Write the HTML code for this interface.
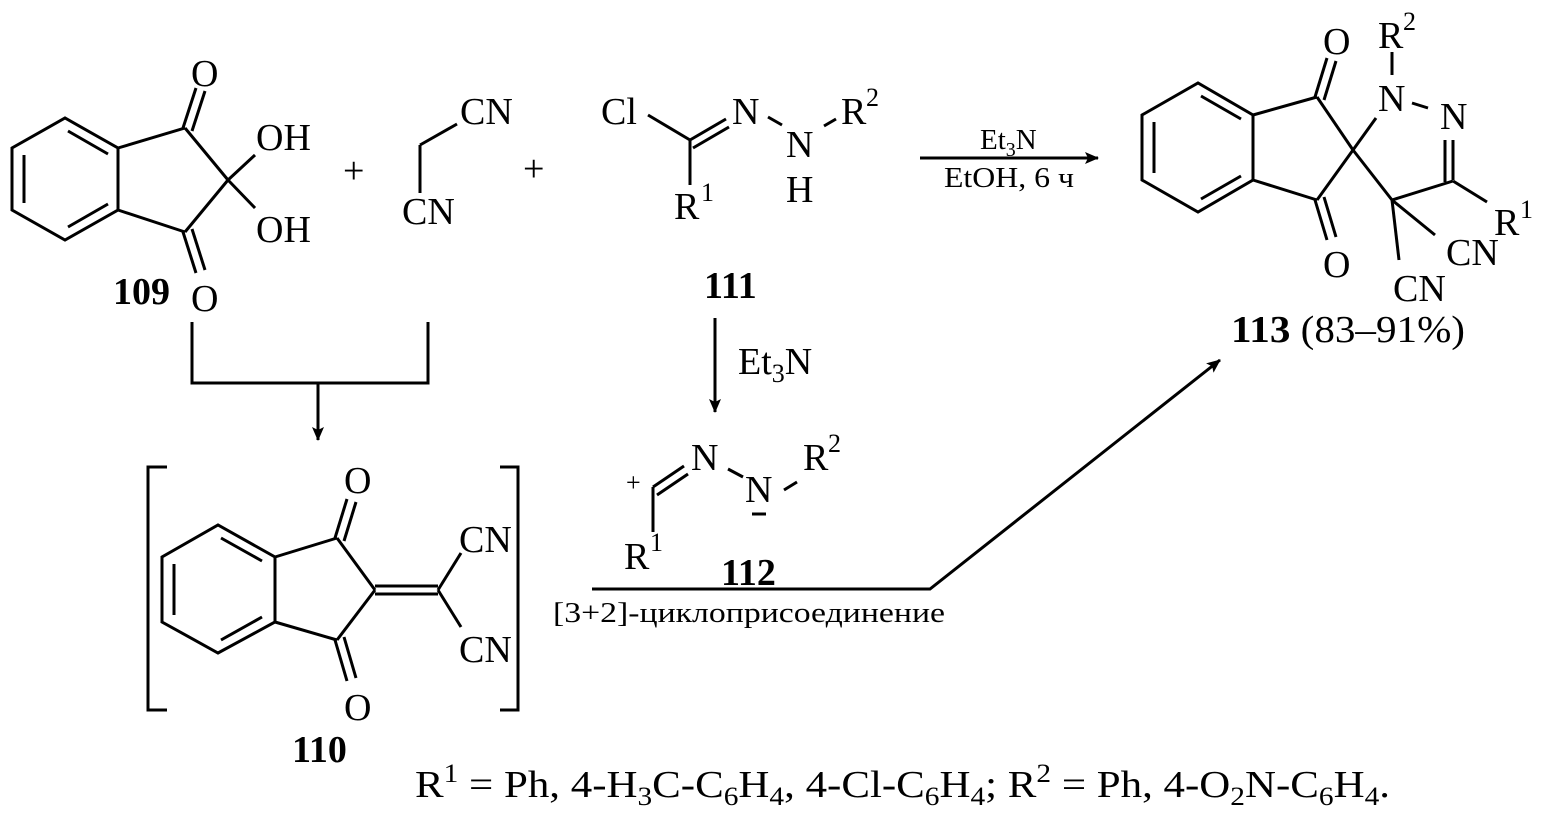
<!DOCTYPE html>
<html><head><meta charset="utf-8"><style>
html,body{margin:0;padding:0;background:#fff;}
svg{display:block;}
text{font-family:"Liberation Serif",serif;fill:#000;}
.b{font-weight:bold;}
</style></head><body>
<svg width="1542" height="815" viewBox="0 0 1542 815" xmlns="http://www.w3.org/2000/svg">
<defs>
<marker id="ah" markerWidth="14" markerHeight="12" refX="13" refY="6" orient="auto" markerUnits="userSpaceOnUse">
<path d="M0,0 L14,6 L0,12 L3,6 Z" fill="#000"/>
</marker>
</defs>
<g stroke="#000" stroke-width="3" fill="none" stroke-linecap="butt">
<!-- 109 -->
<polygon points="12,148 12,210 65,240 118,210 118,148 65,118"/>
<line x1="24" y1="155" x2="24" y2="203"/>
<line x1="68" y1="131" x2="108" y2="154"/>
<line x1="68" y1="227" x2="108" y2="204"/>
<line x1="118" y1="148" x2="185" y2="128"/>
<line x1="118" y1="210" x2="185" y2="232"/>
<line x1="185" y1="128" x2="228" y2="180"/>
<line x1="185" y1="232" x2="228" y2="180"/>
<line x1="183" y1="128" x2="196" y2="88"/><line x1="192" y1="131" x2="205" y2="91"/>
<line x1="183" y1="232" x2="196" y2="273"/><line x1="192" y1="229" x2="205" y2="270"/>
<line x1="228" y1="180" x2="255" y2="155"/>
<line x1="228" y1="180" x2="255" y2="208"/>
<!-- malononitrile -->
<line x1="420" y1="145" x2="457" y2="124"/>
<line x1="420" y1="145" x2="420" y2="193"/>
<!-- 111 -->
<line x1="648" y1="115" x2="690" y2="140"/>
<line x1="690" y1="140" x2="726" y2="119"/>
<line x1="693" y1="148" x2="729" y2="127"/>
<line x1="690" y1="140" x2="690" y2="185"/>
<line x1="768" y1="117" x2="782" y2="125"/>
<line x1="824" y1="126" x2="836" y2="119"/>
<!-- main arrow -->
<line x1="920" y1="158" x2="1098" y2="158" marker-end="url(#ah)"/>
<!-- 113 -->
<polygon points="1142,115 1142,180 1198,212 1253,180 1253,115 1198,83"/>
<line x1="1154" y1="122" x2="1154" y2="173"/>
<line x1="1201" y1="96" x2="1241" y2="119"/>
<line x1="1201" y1="199" x2="1241" y2="176"/>
<line x1="1253" y1="115" x2="1317" y2="97"/>
<line x1="1253" y1="180" x2="1317" y2="200"/>
<line x1="1317" y1="97" x2="1353" y2="150"/>
<line x1="1317" y1="200" x2="1353" y2="150"/>
<line x1="1315" y1="97" x2="1327" y2="58"/><line x1="1324" y1="100" x2="1336" y2="61"/>
<line x1="1315" y1="200" x2="1327" y2="240"/><line x1="1324" y1="197" x2="1336" y2="237"/>
<line x1="1353" y1="150" x2="1376" y2="118"/>
<line x1="1392" y1="52" x2="1392" y2="75"/>
<line x1="1412" y1="103" x2="1428" y2="108"/>
<line x1="1445" y1="140" x2="1445" y2="182"/>
<line x1="1453" y1="140" x2="1453" y2="180"/>
<line x1="1353" y1="150" x2="1392" y2="200"/>
<line x1="1392" y1="200" x2="1453" y2="181"/>
<line x1="1453" y1="181" x2="1487" y2="202"/>
<line x1="1392" y1="200" x2="1435" y2="235"/>
<line x1="1392" y1="200" x2="1399" y2="260"/>
<!-- connectors 109 -> 110 -->
<polyline points="192,322 192,383 428,383 428,322"/>
<line x1="318" y1="383" x2="318" y2="440" marker-end="url(#ah)"/>
<line x1="715" y1="318" x2="715" y2="412" marker-end="url(#ah)"/>
<!-- 110 -->
<polyline points="167,467 148,467 148,710 167,710"/>
<polyline points="500,467 518,467 518,710 500,710"/>
<polygon points="162,557 162,622 218,653 275,622 275,557 218,525"/>
<line x1="174" y1="564" x2="174" y2="615"/>
<line x1="221" y1="538" x2="262" y2="561"/>
<line x1="221" y1="640" x2="262" y2="617"/>
<line x1="275" y1="557" x2="337" y2="538"/>
<line x1="275" y1="622" x2="337" y2="640"/>
<line x1="337" y1="538" x2="375" y2="590"/>
<line x1="337" y1="640" x2="375" y2="590"/>
<line x1="335" y1="538" x2="347" y2="499"/><line x1="344" y1="541" x2="356" y2="502"/>
<line x1="335" y1="640" x2="347" y2="681"/><line x1="344" y1="637" x2="356" y2="678"/>
<line x1="375" y1="586" x2="438" y2="586"/>
<line x1="375" y1="594" x2="438" y2="594"/>
<line x1="438" y1="590" x2="461" y2="553"/>
<line x1="438" y1="590" x2="461" y2="627"/>
<!-- 112 -->
<line x1="653" y1="487" x2="684" y2="466"/>
<line x1="657" y1="495" x2="688" y2="474"/>
<line x1="653" y1="487" x2="653" y2="532"/>
<line x1="728" y1="469" x2="743" y2="477"/>
<line x1="784" y1="490" x2="797" y2="482"/>
<line x1="752" y1="514" x2="766" y2="514"/>
<!-- cycloaddition path -->
<polyline points="592,589 930,589 1220,360" marker-end="url(#ah)"/>
</g>
<g font-size="38">
<text x="191" y="86">O</text>
<text x="191" y="311">O</text>
<text x="256" y="150">OH</text>
<text x="256" y="242">OH</text>
<text x="113" y="304" class="b">109</text>
<text x="343" y="183">+</text>
<text x="460" y="124">CN</text>
<text x="402" y="224">CN</text>
<text x="523" y="181">+</text>
<text x="601" y="124">Cl</text>
<text x="732" y="124">N</text>
<text x="786" y="157">N</text>
<text x="841" y="124">R</text><text x="866" y="106" font-size="26">2</text>
<text x="786" y="202">H</text>
<text x="674" y="219">R</text><text x="701" y="201" font-size="26">1</text>
<text x="704" y="298" class="b">111</text>
<text x="1323" y="54">O</text>
<text x="1323" y="277">O</text>
<text x="1378" y="48">R</text><text x="1403" y="30" font-size="26">2</text>
<text x="1378" y="111">N</text>
<text x="1440" y="129">N</text>
<text x="1494" y="235">R</text><text x="1520" y="218" font-size="26">1</text>
<text x="1446" y="265">CN</text>
<text x="1393" y="301">CN</text>
<text x="1231" y="342" textLength="234" lengthAdjust="spacingAndGlyphs"><tspan class="b">113</tspan> (83–91%)</text>
<text x="738" y="374">Et<tspan font-size="26" dy="8">3</tspan><tspan dy="-8">N</tspan></text>
<text x="344" y="493">O</text>
<text x="344" y="720">O</text>
<text x="459" y="552">CN</text>
<text x="459" y="662">CN</text>
<text x="292" y="762" class="b">110</text>
<text x="691" y="470">N</text>
<text x="745" y="502">N</text>
<text x="803" y="470">R</text><text x="828" y="452" font-size="26">2</text>
<text x="624" y="569">R</text><text x="650" y="551" font-size="26">1</text>
<text x="721" y="585" class="b">112</text>
<text x="415" y="797" textLength="975" lengthAdjust="spacingAndGlyphs">R<tspan font-size="26" dy="-15">1</tspan><tspan dy="15"> = Ph, 4-H</tspan><tspan font-size="26" dy="8">3</tspan><tspan dy="-8">C-C</tspan><tspan font-size="26" dy="8">6</tspan><tspan dy="-8">H</tspan><tspan font-size="26" dy="8">4</tspan><tspan dy="-8">, 4-Cl-C</tspan><tspan font-size="26" dy="8">6</tspan><tspan dy="-8">H</tspan><tspan font-size="26" dy="8">4</tspan><tspan dy="-8">; R</tspan><tspan font-size="26" dy="-15">2</tspan><tspan dy="15"> = Ph,  4-O</tspan><tspan font-size="26" dy="8">2</tspan><tspan dy="-8">N-C</tspan><tspan font-size="26" dy="8">6</tspan><tspan dy="-8">H</tspan><tspan font-size="26" dy="8">4</tspan><tspan dy="-8">.</tspan></text>
</g>
<text x="626" y="491" font-size="26">+</text>
<text x="980" y="149" font-size="29">Et<tspan font-size="20" dy="7">3</tspan><tspan dy="-7">N</tspan></text>
<text x="944" y="187" font-size="29" textLength="130" lengthAdjust="spacingAndGlyphs">EtOH, 6 ч</text>
<text x="553" y="622" font-size="28" textLength="392" lengthAdjust="spacingAndGlyphs">[3+2]-циклоприсоединение</text>
</svg>
</body></html>
